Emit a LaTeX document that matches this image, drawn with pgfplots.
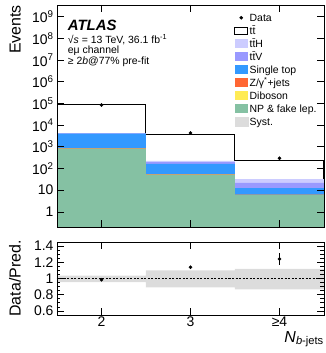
\documentclass[border=0pt]{standalone}
\usepackage{fontspec}
\setmainfont{Liberation Sans}
\usepackage{pgfplots}
\usepackage{pgfplotstable}
\pgfplotsset{compat=1.18}

\definecolor{cttH}{RGB}{204,204,255}
\definecolor{cttV}{RGB}{153,153,255}
\definecolor{cst}{RGB}{51,153,255}
\definecolor{cZ}{RGB}{255,102,51}
\definecolor{cdb}{RGB}{255,235,85}
\definecolor{cnp}{RGB}{133,193,163}
\definecolor{csyst}{RGB}{220,220,220}

% cumulative stacked predictions (bin edges 1.5,2.5,3.5,4.5)
\pgfplotstableread{
x   tt     ttH   ttV   st    Z    db   NP
1.5 86000  4180  4130  4030  850  830  800
2.5 3830   224   195   163   53   52   51
3.5 242    32    22    12.3  6.3  6.1  6.0
4.5 242    32    22    12.3  6.3  6.1  6.0
}\stack

\pgfplotstableread{
x  y      ey
2  85000  292
3  4400   66
4  300    17
}\data

\pgfplotstableread{
x  y      ey
2  0.985  0.005
3  1.14   0.012
4  1.24   0.075
}\ratio

\newcommand{\boxlegend}[1]{\fill[#1] (0bp,-3.5bp) rectangle (13bp,5bp);}

\begin{document}
\begin{tikzpicture}
\begin{axis}[
  name=main,
  scale only axis,
  width=267bp, height=222bp,
  xmin=1.5, xmax=4.5,
  ymode=log, log basis y=10, log origin y=infty,
  ymin=0.2, ymax=3.5e9,
  xtick={2,3,4}, xticklabels={},
  ytick={1,10,100,1000,1e4,1e5,1e6,1e7,1e8,1e9},
  yticklabels={1,10,10\textsuperscript{2},10\textsuperscript{3},10\textsuperscript{4},10\textsuperscript{5},10\textsuperscript{6},10\textsuperscript{7},10\textsuperscript{8},10\textsuperscript{9}},
  xtick pos=both, ytick pos=both,
  tick align=inside,
  major tick length=7bp, minor tick length=3.5bp,
  every tick/.style={black, line width=0.7bp},
  axis line style={line width=0.9bp},
  axis on top,
  tick label style={font=\fontsize{14}{14}\selectfont},
  ylabel={Events},
  ylabel style={at={(axis description cs:-0.135,1)}, anchor=south east, inner sep=0pt, font=\fontsize{16}{16}\selectfont},
  legend style={at={(axis description cs:0.652,0.975)}, anchor=north west, draw=none, fill=none,
    font=\fontsize{10.5}{12}\selectfont, row sep=1.5bp, cells={anchor=west},
    nodes={inner ysep=0.5bp, inner xsep=1.5bp, text height=8bp, text depth=2.5bp}},
]
\addlegendimage{legend image code/.code={\fill[black] (6.5bp,0.8bp) circle (1.6bp);}}
\addlegendentry{Data}
\addplot[const plot, fill=white, draw=black, line width=1bp,
  legend image code/.code={\draw[draw=black, fill=white, line width=0.9bp] (0bp,-3bp) rectangle (13bp,4.5bp);}]
  table[x=x,y=tt]{\stack} \closedcycle;
\addlegendentry{t\={t}}
\addplot[const plot, fill=cttH, draw=none, legend image code/.code={\boxlegend{cttH}}]
  table[x=x,y=ttH]{\stack} \closedcycle;
\addlegendentry{t\={t}H}
\addplot[const plot, fill=cttV, draw=none, legend image code/.code={\boxlegend{cttV}}]
  table[x=x,y=ttV]{\stack} \closedcycle;
\addlegendentry{t\={t}V}
\addplot[const plot, fill=cst, draw=none, legend image code/.code={\boxlegend{cst}}]
  table[x=x,y=st]{\stack} \closedcycle;
\addlegendentry{Single top}
\addplot[const plot, fill=cZ, draw=none, legend image code/.code={\boxlegend{cZ}}]
  table[x=x,y=Z]{\stack} \closedcycle;
\addlegendentry{Z/γ\textsuperscript{*}+jets}
\addplot[const plot, fill=cdb, draw=none, legend image code/.code={\boxlegend{cdb}}]
  table[x=x,y=db]{\stack} \closedcycle;
\addlegendentry{Diboson}
\addplot[const plot, fill=cnp, draw=none, legend image code/.code={\boxlegend{cnp}}]
  table[x=x,y=NP]{\stack} \closedcycle;
\addlegendentry{NP \& fake lep.}
\addlegendimage{legend image code/.code={\boxlegend{csyst}}}
\addlegendentry{Syst.}
\addplot[forget plot, only marks, mark=*, mark size=1.6bp, black,
  error bars/.cd, y dir=both, y explicit, error mark=none]
  table[x=x,y=y,y error=ey]{\data};
\node[anchor=west, inner sep=0pt, font=\fontsize{15}{15}\bfseries\itshape] at (axis description cs:0.04,0.91) {ATLAS};
\node[anchor=west, inner sep=0pt, font=\fontsize{10.5}{12}\selectfont] at (axis description cs:0.04,0.842) {√\textit{s} = 13 TeV, 36.1 fb\textsuperscript{-1}};
\node[anchor=west, inner sep=0pt, font=\fontsize{10.5}{12}\selectfont] at (axis description cs:0.04,0.793) {eμ channel};
\node[anchor=west, inner sep=0pt, font=\fontsize{10.5}{12}\selectfont] at (axis description cs:0.04,0.742) {≥ 2\textit{b}@77\% pre-fit};
\end{axis}

\begin{axis}[
  name=ratio,
  at={(main.south west)}, anchor=north west, yshift=-15bp,
  scale only axis,
  width=267bp, height=73bp,
  xmin=1.5, xmax=4.5,
  ymin=0.55, ymax=1.45,
  xtick={2,3,4}, xticklabels={2,3,≥4},
  ytick={0.6,0.8,1,1.2,1.4}, yticklabels={0.6,0.8,1,1.2,1.4},
  minor y tick num=3,
  xtick pos=both, ytick pos=both,
  tick align=inside,
  major tick length=7bp, minor tick length=3.5bp,
  every tick/.style={black, line width=0.7bp},
  axis line style={line width=0.9bp},
  axis on top,
  tick label style={font=\fontsize{14}{14}\selectfont},
  xticklabel style={inner sep=2bp},
  ylabel={Data/Pred.},
  ylabel style={at={(axis description cs:-0.135,0.5)}, anchor=south, inner sep=0pt, font=\fontsize{16}{16}\selectfont},
  xlabel={\textit{N}\textsubscript{\textit{b}-jets}},
  xlabel style={at={(axis description cs:1,0)}, anchor=base east, yshift=-27bp, inner sep=0pt, font=\fontsize{16}{16}\selectfont},
]
\addplot[fill=csyst, draw=none] coordinates {
  (1.5,0.955) (2.5,0.955) (2.5,0.89) (3.5,0.89) (3.5,0.865) (4.5,0.865)
  (4.5,1.12) (3.5,1.12) (3.5,1.10) (2.5,1.10) (2.5,1.037) (1.5,1.037)} -- cycle;
\addplot[black, line width=0.8bp, dash pattern=on 2bp off 1.5bp] coordinates {(1.5,1) (4.5,1)};
\addplot[only marks, mark=*, mark size=1.6bp, black,
  error bars/.cd, y dir=both, y explicit, error mark=none, error bar style={line width=1bp}]
  table[x=x,y=y,y error=ey]{\ratio};
\end{axis}

\pgfresetboundingbox
\path[use as bounding box] ([shift={(-57bp,-126bp)}]main.south west) rectangle ([shift={(269bp,227bp)}]main.south west);
\end{tikzpicture}
\end{document}
